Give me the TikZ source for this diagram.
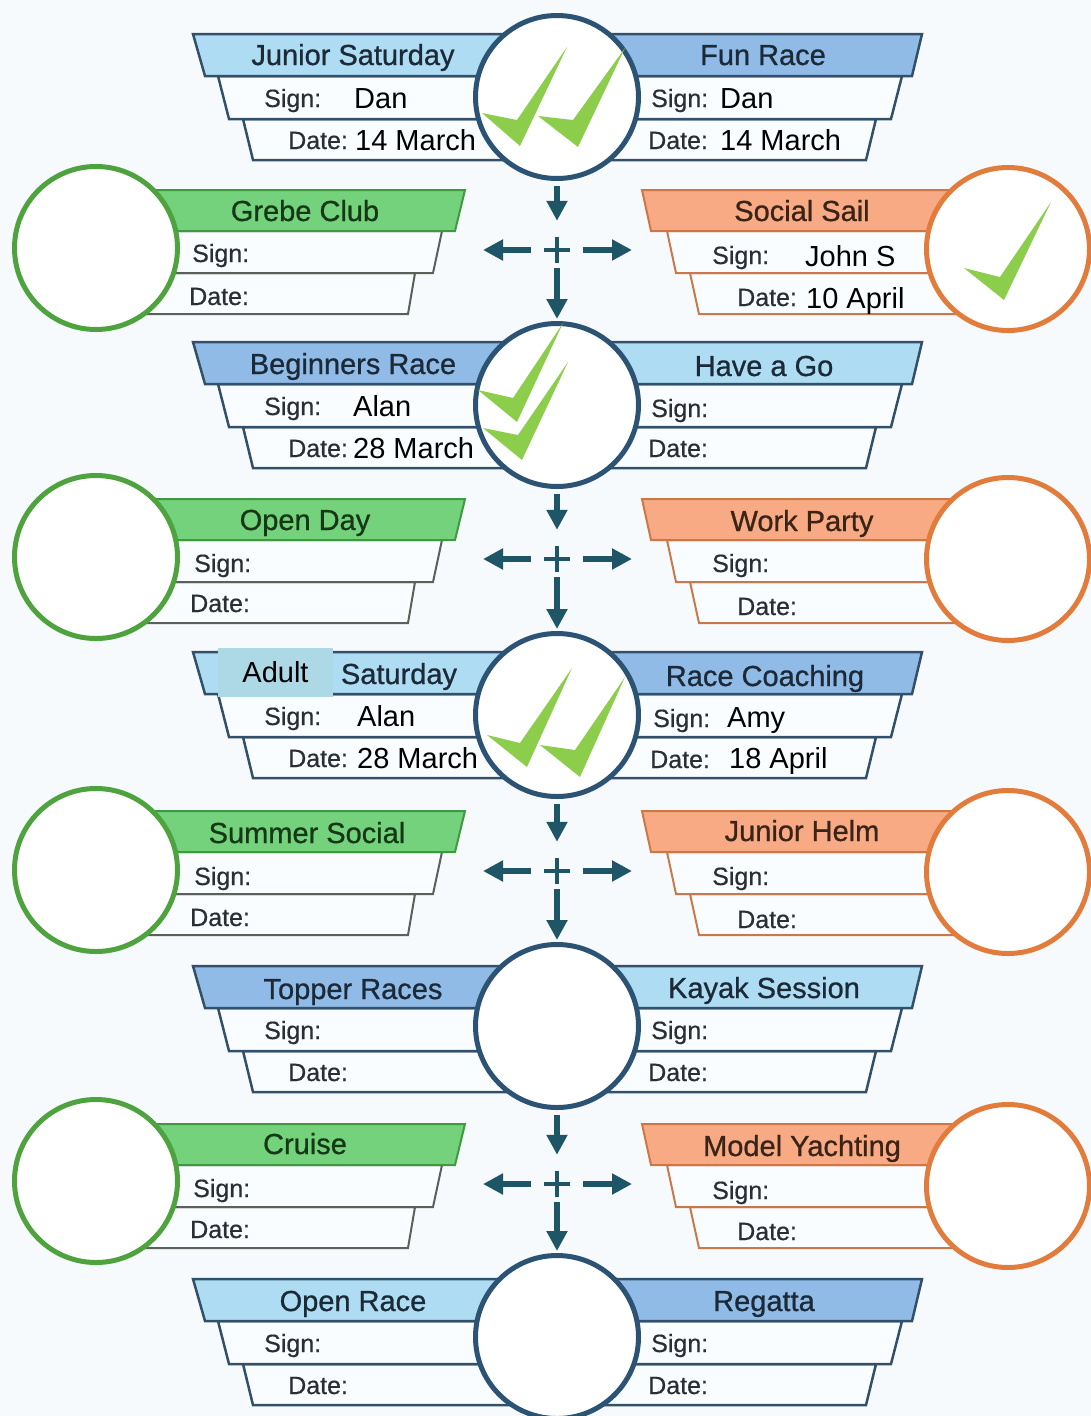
\documentclass[tikz,border=0pt]{standalone}
\usepackage{fontspec}
\setmainfont{Liberation Sans}
\newfontfamily\TtlFam{Liberation Sans}[FakeBold=0.8]
\newfontfamily\LblFam{Liberation Sans}[FakeBold=0.5]
\usetikzlibrary{arrows.meta}
\definecolor{bgc}{HTML}{F7FAFC}
\definecolor{bLight}{HTML}{AEDCF3}
\definecolor{bMed}{HTML}{8FBBE6}
\definecolor{bBord}{HTML}{33506B}
\definecolor{bCirc}{HTML}{2C5373}
\definecolor{bText}{HTML}{1C2A38}
\definecolor{gFill}{HTML}{74D27C}
\definecolor{gBord}{HTML}{3F9A3F}
\definecolor{gForm}{HTML}{5A605A}
\definecolor{gCirc}{HTML}{4FA33F}
\definecolor{gText}{HTML}{163816}
\definecolor{oFill}{HTML}{F8AA84}
\definecolor{oBord}{HTML}{CF7645}
\definecolor{oForm}{HTML}{C8784A}
\definecolor{oCirc}{HTML}{E27C3C}
\definecolor{oText}{HTML}{3A2418}
\definecolor{lblc}{HTML}{2A2F35}
\definecolor{arrc}{HTML}{1E5668}
\definecolor{chkc}{HTML}{8CCE4B}
\definecolor{adultc}{HTML}{ADD8E6}
\definecolor{formc}{HTML}{FAFDFF}
\newcommand\TtlFont{\TtlFam\fontsize{29}{34}\selectfont}
\newcommand\LblFont{\LblFam\fontsize{25}{30}\selectfont}
\newcommand\ValFont{\fontsize{29}{34}\selectfont}
\tikzset{
  bform/.style={draw=bBord, fill=formc, line width=2.5pt},
  gform/.style={draw=gForm, fill=formc, line width=2pt},
  gtitle/.style={draw=gBord, fill=gFill, line width=2pt},
  oform/.style={draw=oForm, fill=formc, line width=2pt},
  otitle/.style={draw=oBord, fill=oFill, line width=2pt},
  bigc/.style={circle, draw=bCirc, line width=5pt, fill=white, minimum size=163pt, inner sep=0},
  gcirc/.style={circle, draw=gCirc, line width=5pt, fill=white, minimum size=163pt, inner sep=0},
  ocirc/.style={circle, draw=oCirc, line width=5pt, fill=white, minimum size=163pt, inner sep=0},
  arr/.style={draw=arrc, line width=6.5pt, -{Triangle[length=20pt,width=20pt]}},
  plusn/.style={circle, minimum size=52pt, inner sep=0},
  plusl/.style={draw=arrc, line width=4pt},
  ttlB/.style={font=\TtlFont, text=bText, anchor=base, inner sep=0},
  ttlG/.style={font=\TtlFont, text=gText, anchor=base, inner sep=0},
  ttlO/.style={font=\TtlFont, text=oText, anchor=base, inner sep=0},
  lbl/.style={font=\LblFont, text=lblc, anchor=base west, inner sep=0},
  val/.style={font=\ValFont, text=black, anchor=base west, inner sep=0},
  chk/.style={fill=chkc}
}
\begin{document}
\begin{tikzpicture}[x=1pt,y=-1pt, line join=miter]
\fill[bgc] (0,0) rectangle (1091,1416);
\useasboundingbox (0,0) rectangle (1091,1416);

% ---- blue rows ----
\foreach \yc/\cy/\lf/\rf/\n in {98/97/bLight/bMed/1, 406/405/bMed/bLight/3, 716/715/bLight/bMed/5, 1030/1026/bMed/bLight/7, 1343/1337/bLight/bMed/9}{
  \filldraw[bform] (243,\yc+21) -- (557,\yc+21) -- (557,\yc+62) -- (253,\yc+62) -- cycle;
  \filldraw[bform] (218,\yc-22) -- (557,\yc-22) -- (557,\yc+21) -- (229,\yc+21) -- cycle;
  \filldraw[bform, fill=\lf] (193,\yc-64) -- (557,\yc-64) -- (557,\yc-22) -- (205,\yc-22) -- cycle;
  \filldraw[bform] (557,\yc+21) -- (876,\yc+21) -- (866,\yc+62) -- (557,\yc+62) -- cycle;
  \filldraw[bform] (557,\yc-22) -- (902,\yc-22) -- (891,\yc+21) -- (557,\yc+21) -- cycle;
  \filldraw[bform, fill=\rf] (557,\yc-64) -- (922,\yc-64) -- (912,\yc-22) -- (557,\yc-22) -- cycle;
  \node[bigc] (b\n) at (557,\cy) {};
}

% ---- side rows ----
\foreach \yc/\gy/\oy/\n in {251/248/249/2, 560/557/559/4, 872/870/872/6, 1185/1181/1186/8}{
  \filldraw[gform] (100,\yc+22) -- (415,\yc+22) -- (408,\yc+63) -- (100,\yc+63) -- cycle;
  \filldraw[gform] (100,\yc-20) -- (442,\yc-20) -- (433,\yc+22) -- (100,\yc+22) -- cycle;
  \filldraw[gtitle] (100,\yc-61) -- (465,\yc-61) -- (455,\yc-20) -- (100,\yc-20) -- cycle;
  \node[gcirc] (g\n) at (96,\gy) {};
  \filldraw[oform] (690,\yc+22) -- (1008,\yc+22) -- (1008,\yc+63) -- (699,\yc+63) -- cycle;
  \filldraw[oform] (667,\yc-20) -- (1008,\yc-20) -- (1008,\yc+22) -- (676,\yc+22) -- cycle;
  \filldraw[otitle] (642,\yc-61) -- (1008,\yc-61) -- (1008,\yc-20) -- (651,\yc-20) -- cycle;
  \node[ocirc] (o\n) at (1008,\oy) {};
  \node[plusn] (p\n) at (557,\yc-1) {};
  \coordinate (hl\n) at (483,\yc-1);
  \coordinate (hr\n) at (632,\yc-1);
}

% ---- connectors ----
\foreach \a/\p/\b in {1/2/3, 3/4/5, 5/6/7, 7/8/9}{
  \draw[arr, shorten <=5pt, shorten >=3pt] (b\a) -- (p\p);
  \draw[arr, shorten <=-8pt, shorten >=2pt] (p\p) -- (b\b);
  \draw[arr] (p\p) -- (hl\p);
  \draw[arr] (p\p) -- (hr\p);
  \draw[plusl] ([xshift=-13pt]p\p.center) -- ([xshift=13pt]p\p.center);
  \draw[plusl] ([yshift=-13pt]p\p.center) -- ([yshift=13pt]p\p.center);
}

% ---- row 1 texts ----
\node[ttlB] (t1l) at (353,65) {Junior Saturday};
\node[ttlB] (t1r) at (763,65) {Fun Race};
\node[lbl] (s1l) at (264,107) {Sign:};
\node[lbl] (d1l) at (288,149) {Date:};
\node[lbl] (s1r) at (651,107) {Sign:};
\node[lbl] (d1r) at (648,149) {Date:};
\node[val] (v1a) at (354,108) {Dan};
\node[val] (v1b) at (355,150) {14 March};
\node[val] (v1c) at (720,108) {Dan};
\node[val] (v1d) at (720,150) {14 March};

% ---- row 3 texts ----
\node[ttlB] (t3l) at (353,374) {Beginners Race};
\node[ttlB] (t3r) at (764,376) {Have a Go};
\node[lbl] (s3l) at (264,415) {Sign:};
\node[lbl] (d3l) at (288,457) {Date:};
\node[lbl] (s3r) at (651,417) {Sign:};
\node[lbl] (d3r) at (648,457) {Date:};
\node[val] (v3a) at (353,416) {Alan};
\node[val] (v3b) at (353,458) {28 March};

% ---- row 5 texts ----
\node[ttlB] (t5l) at (399,684) {Saturday};
\node[ttlB] (t5r) at (765,686) {Race Coaching};
\node[lbl] (s5l) at (264,725) {Sign:};
\node[lbl] (d5l) at (288,767) {Date:};
\node[lbl] (s5r) at (653,727) {Sign:};
\node[lbl] (d5r) at (650,768) {Date:};
\node[val] (v5a) at (357,726) {Alan};
\node[val] (v5b) at (357,768) {28 March};
\node[val] (v5c) at (727,727) {Amy};
\node[val] (v5d) at (729,768) {18 April};
\node[fill=adultc, minimum width=115pt, minimum height=49pt, inner sep=0, font=\ValFont, text=black] (adult) at (275.5,672.5) {Adult};

% ---- row 7 texts ----
\node[ttlB] (t7l) at (353,999) {Topper Races};
\node[ttlB] (t7r) at (764,998) {Kayak Session};
\node[lbl] (s7l) at (264,1039) {Sign:};
\node[lbl] (d7l) at (288,1081) {Date:};
\node[lbl] (s7r) at (651,1039) {Sign:};
\node[lbl] (d7r) at (648,1081) {Date:};

% ---- row 9 texts ----
\node[ttlB] (t9l) at (353,1311) {Open Race};
\node[ttlB] (t9r) at (764,1311) {Regatta};
\node[lbl] (s9l) at (264,1352) {Sign:};
\node[lbl] (d9l) at (288,1394) {Date:};
\node[lbl] (s9r) at (651,1352) {Sign:};
\node[lbl] (d9r) at (648,1394) {Date:};

% ---- side row texts ----
\node[ttlG] (t2l) at (305,221) {Grebe Club};
\node[lbl] (s2l) at (192,262) {Sign:};
\node[lbl] (d2l) at (189,305) {Date:};
\node[ttlO] (t2r) at (802,221) {Social Sail};
\node[lbl] (s2r) at (712,264) {Sign:};
\node[lbl] (d2r) at (737,306) {Date:};
\node[val] (v2a) at (805,266) {John S};
\node[val] (v2b) at (806,308) {10 April};

\node[ttlG] (t4l) at (305,530) {Open Day};
\node[lbl] (s4l) at (194,572) {Sign:};
\node[lbl] (d4l) at (190,612) {Date:};
\node[ttlO] (t4r) at (802,531) {Work Party};
\node[lbl] (s4r) at (712,572) {Sign:};
\node[lbl] (d4r) at (737,615) {Date:};

\node[ttlG] (t6l) at (307,843) {Summer Social};
\node[lbl] (s6l) at (194,885) {Sign:};
\node[lbl] (d6l) at (190,926) {Date:};
\node[ttlO] (t6r) at (802,841) {Junior Helm};
\node[lbl] (s6r) at (712,885) {Sign:};
\node[lbl] (d6r) at (737,928) {Date:};

\node[ttlG] (t8l) at (305,1154) {Cruise};
\node[lbl] (s8l) at (193,1197) {Sign:};
\node[lbl] (d8l) at (190,1238) {Date:};
\node[ttlO] (t8r) at (802,1156) {Model Yachting};
\node[lbl] (s8r) at (712,1199) {Sign:};
\node[lbl] (d8r) at (737,1240) {Date:};

% ---- check marks ----
\fill[chk] (482,113) -- (520,146) -- (567,47) -- (517,120) -- cycle;
\fill[chk] (538,116) -- (578,147) -- (625,48) -- (573,120) -- cycle;
\fill[chk] (478,390) -- (517,422) -- (563,323) -- (513,398) -- cycle;
\fill[chk] (483,428) -- (522,460) -- (568,362) -- (518,435) -- cycle;
\fill[chk] (487,735) -- (527,767) -- (572,668) -- (520,743) -- cycle;
\fill[chk] (540,745) -- (580,777) -- (625,677) -- (575,750) -- cycle;
\fill[chk] (964,268) -- (1004,300) -- (1051,202) -- (1000,277) -- cycle;
\end{tikzpicture}
\end{document}
